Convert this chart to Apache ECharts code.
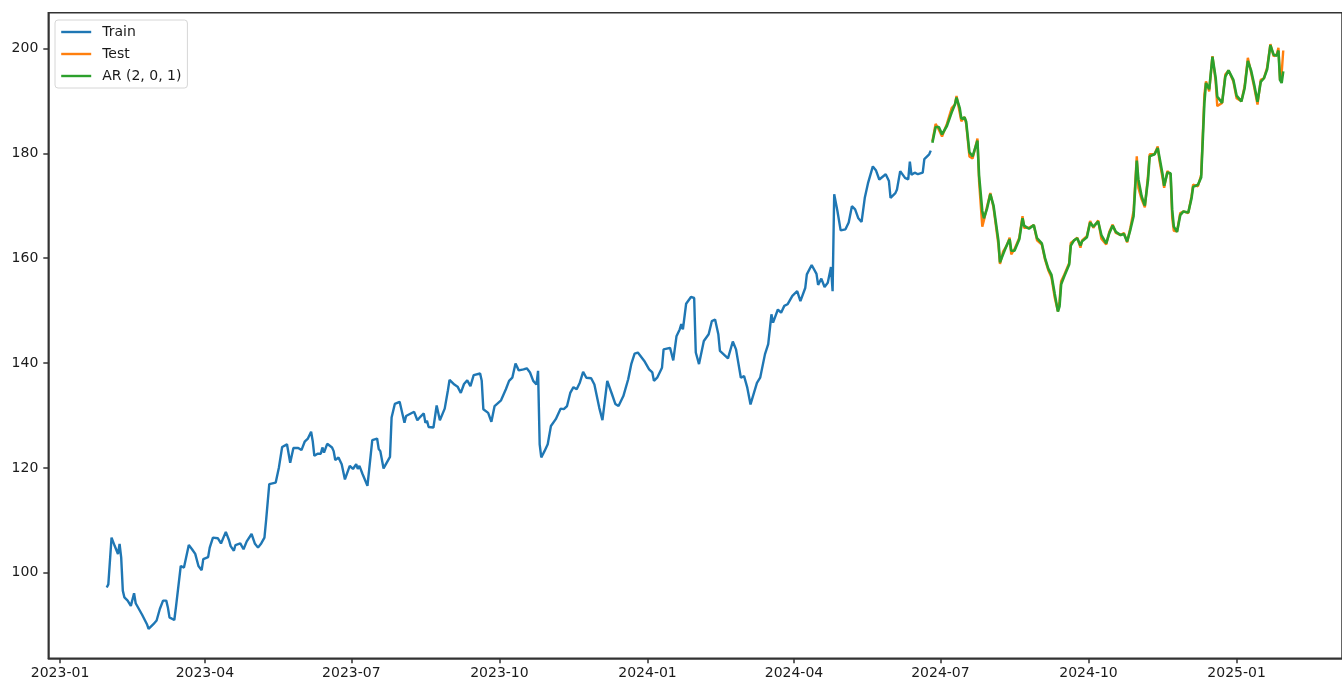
<!DOCTYPE html>
<html>
<head>
<meta charset="utf-8">
<script src="https://cdn.jsdelivr.net/npm/echarts@6/dist/echarts.min.js"></script>
<style>
  html, body { margin: 0; padding: 0; background: #fff; }
  #chart { width: 1342px; height: 684px; }
</style>
</head>
<body>
<div id="chart"></div>
<script>
// Closing prices: training window, held-out test window and AR(2,0,1) forecast
const trainDates = [
  '2023-01-30','2023-01-31','2023-02-02','2023-02-04','2023-02-06','2023-02-07','2023-02-08','2023-02-09','2023-02-10','2023-02-12',
  '2023-02-14','2023-02-16','2023-02-17','2023-02-19','2023-02-21','2023-02-24','2023-02-25','2023-02-26','2023-02-28','2023-03-02',
  '2023-03-04','2023-03-06','2023-03-08','2023-03-09','2023-03-10','2023-03-13','2023-03-14','2023-03-17','2023-03-19','2023-03-22',
  '2023-03-24','2023-03-26','2023-03-28','2023-03-30','2023-03-31','2023-04-03','2023-04-04','2023-04-06','2023-04-09','2023-04-11',
  '2023-04-14','2023-04-16','2023-04-17','2023-04-19','2023-04-20','2023-04-23','2023-04-25','2023-04-27','2023-04-30','2023-05-02',
  '2023-05-04','2023-05-06','2023-05-08','2023-05-09','2023-05-11','2023-05-15','2023-05-17','2023-05-19','2023-05-22','2023-05-24',
  '2023-05-26','2023-05-29','2023-05-31','2023-06-02','2023-06-04','2023-06-06','2023-06-07','2023-06-08','2023-06-10','2023-06-12',
  '2023-06-13','2023-06-14','2023-06-16','2023-06-19','2023-06-20','2023-06-21','2023-06-23','2023-06-25','2023-06-27','2023-06-30',
  '2023-07-02','2023-07-04','2023-07-05','2023-07-06','2023-07-08','2023-07-11','2023-07-14','2023-07-17','2023-07-18','2023-07-19',
  '2023-07-21','2023-07-23','2023-07-25','2023-07-26','2023-07-28','2023-07-31','2023-08-03','2023-08-04','2023-08-09','2023-08-11',
  '2023-08-13','2023-08-15','2023-08-16','2023-08-17','2023-08-18','2023-08-21','2023-08-23','2023-08-25','2023-08-28','2023-08-30',
  '2023-08-31','2023-09-03','2023-09-05','2023-09-07','2023-09-09','2023-09-11','2023-09-13','2023-09-15','2023-09-19','2023-09-20',
  '2023-09-21','2023-09-24','2023-09-26','2023-09-28','2023-10-02','2023-10-05','2023-10-07','2023-10-09','2023-10-11','2023-10-13',
  '2023-10-16','2023-10-18','2023-10-20','2023-10-22','2023-10-24','2023-10-25','2023-10-26','2023-10-27','2023-10-29','2023-10-31',
  '2023-11-02','2023-11-05','2023-11-08','2023-11-10','2023-11-12','2023-11-14','2023-11-16','2023-11-18','2023-11-20','2023-11-22',
  '2023-11-24','2023-11-27','2023-11-29','2023-12-02','2023-12-04','2023-12-07','2023-12-10','2023-12-12','2023-12-14','2023-12-17',
  '2023-12-20','2023-12-22','2023-12-24','2023-12-26','2023-12-30','2024-01-02','2024-01-04','2024-01-05','2024-01-07','2024-01-10',
  '2024-01-11','2024-01-15','2024-01-17','2024-01-19','2024-01-21','2024-01-22','2024-01-23','2024-01-25','2024-01-28','2024-01-30',
  '2024-01-31','2024-02-02','2024-02-05','2024-02-08','2024-02-10','2024-02-12','2024-02-14','2024-02-15','2024-02-20','2024-02-23',
  '2024-02-25','2024-02-28','2024-03-01','2024-03-03','2024-03-05','2024-03-06','2024-03-09','2024-03-11','2024-03-14','2024-03-16',
  '2024-03-18','2024-03-19','2024-03-22','2024-03-24','2024-03-26','2024-03-28','2024-03-31','2024-04-03','2024-04-05','2024-04-08',
  '2024-04-09','2024-04-12','2024-04-15','2024-04-16','2024-04-18','2024-04-20','2024-04-22','2024-04-24','2024-04-25','2024-04-26',
  '2024-04-28','2024-04-30','2024-05-03','2024-05-05','2024-05-07','2024-05-09','2024-05-11','2024-05-13','2024-05-15','2024-05-17',
  '2024-05-20','2024-05-22','2024-05-24','2024-05-28','2024-05-30','2024-05-31','2024-06-03','2024-06-04','2024-06-06','2024-06-09',
  '2024-06-11','2024-06-12','2024-06-13','2024-06-15','2024-06-17','2024-06-20','2024-06-21','2024-06-24','2024-06-25'
];
const trainValues = [
  97.2, 97.8, 106.7, 105.1, 103.6, 105.5, 102.9, 96.6, 95.3, 94.7,
  93.7, 96.1, 94.2, 93.1, 92.0, 90.2, 89.3, 89.5, 90.2, 90.9,
  93.1, 94.7, 94.7, 93.4, 91.5, 91.0, 93.4, 101.3, 101.0, 105.3,
  104.5, 103.6, 101.3, 100.5, 102.6, 103.0, 104.8, 106.7, 106.6, 105.6,
  107.8, 106.2, 105.1, 104.2, 105.3, 105.6, 104.5, 106.0, 107.4, 105.6,
  104.8, 105.6, 106.7, 109.9, 116.9, 117.2, 120.1, 124.0, 124.5, 121.0,
  123.8, 123.8, 123.4, 125.0, 125.6, 126.9, 125.1, 122.3, 122.7, 122.7,
  123.9, 122.9, 124.6, 123.9, 123.2, 121.5, 122.0, 120.7, 117.8, 120.4,
  119.8, 120.7, 119.8, 120.4, 118.8, 116.6, 125.3, 125.6, 123.6, 123.2,
  119.9, 121.0, 122.1, 129.6, 132.2, 132.6, 128.6, 129.9, 130.7, 129.1,
  129.8, 130.4, 128.6, 129.0, 127.8, 127.7, 131.9, 129.1, 131.3, 134.8,
  136.8, 135.9, 135.5, 134.3, 136.0, 136.7, 135.6, 137.7, 138.0, 136.6,
  131.2, 130.5, 128.8, 131.8, 132.9, 135.0, 136.6, 137.2, 139.9, 138.6,
  138.8, 139.0, 138.2, 136.6, 135.9, 138.5, 124.5, 122.0, 123.2, 124.5,
  128.0, 129.3, 131.3, 131.2, 131.8, 134.3, 135.4, 135.0, 136.3, 138.3,
  137.2, 137.1, 135.9, 131.5, 129.1, 136.6, 134.0, 132.2, 131.8, 133.7,
  136.9, 139.9, 141.8, 142.0, 140.4, 138.8, 138.2, 136.6, 137.2, 139.1,
  142.6, 142.9, 140.5, 145.1, 146.4, 147.4, 146.4, 151.3, 152.6, 152.4,
  142.0, 139.8, 144.2, 145.5, 148.0, 148.3, 145.5, 142.3, 140.9, 144.1,
  142.6, 137.2, 137.5, 135.3, 132.1, 132.1, 136.2, 137.2, 141.7, 143.6,
  149.3, 147.7, 150.2, 149.6, 150.9, 151.2, 152.8, 153.7, 151.8, 154.3,
  156.9, 158.7, 157.0, 154.9, 156.1, 154.5, 155.3, 158.3, 153.7, 172.2,
  169.0, 165.3, 165.5, 166.8, 169.9, 169.3, 167.6, 166.9, 171.5, 174.3,
  177.5, 176.7, 175.0, 176.0, 174.7, 171.5, 172.4, 173.1, 176.6, 175.3,
  175.0, 178.4, 175.9, 176.3, 176.0, 176.3, 178.9, 179.8, 180.5
];

const testDates = [
  '2024-06-26','2024-06-28','2024-06-30','2024-07-02','2024-07-05','2024-07-08','2024-07-10','2024-07-11','2024-07-13','2024-07-14',
  '2024-07-16','2024-07-17','2024-07-19','2024-07-21','2024-07-24','2024-07-25','2024-07-27','2024-07-28','2024-07-30','2024-08-01',
  '2024-08-03','2024-08-06','2024-08-07','2024-08-09','2024-08-11','2024-08-13','2024-08-14','2024-08-16','2024-08-19','2024-08-21',
  '2024-08-22','2024-08-25','2024-08-28','2024-08-30','2024-09-02','2024-09-04','2024-09-06','2024-09-08','2024-09-10','2024-09-12',
  '2024-09-13','2024-09-14','2024-09-16','2024-09-19','2024-09-20','2024-09-22','2024-09-24','2024-09-26','2024-09-27','2024-09-30',
  '2024-10-02','2024-10-04','2024-10-07','2024-10-09','2024-10-12','2024-10-14','2024-10-16','2024-10-18','2024-10-21','2024-10-23',
  '2024-10-25','2024-10-27','2024-10-29','2024-10-31','2024-11-01','2024-11-03','2024-11-05','2024-11-07','2024-11-08','2024-11-11',
  '2024-11-13','2024-11-14','2024-11-16','2024-11-17','2024-11-19','2024-11-21','2024-11-22','2024-11-23','2024-11-25','2024-11-27',
  '2024-11-29','2024-12-02','2024-12-04','2024-12-05','2024-12-08','2024-12-10','2024-12-12','2024-12-13','2024-12-15','2024-12-17',
  '2024-12-19','2024-12-20','2024-12-23','2024-12-25','2024-12-27','2024-12-30','2025-01-01','2025-01-04','2025-01-06','2025-01-08',
  '2025-01-10','2025-01-12','2025-01-14','2025-01-16','2025-01-18','2025-01-20','2025-01-22','2025-01-24','2025-01-26','2025-01-27',
  '2025-01-28','2025-01-29','2025-01-30'
];
const testValues = [
  182.3, 185.6, 184.5, 183.2, 185.6, 188.6, 189.3, 190.9, 187.7, 186.1,
  186.9, 185.6, 179.4, 179.0, 182.8, 174.7, 166.0, 167.2, 169.9, 172.4,
  169.6, 162.6, 158.9, 161.3, 162.3, 163.9, 160.7, 161.7, 163.9, 168.0,
  165.8, 165.8, 166.3, 163.4, 162.6, 159.7, 157.7, 156.3, 152.5, 149.9,
  151.8, 155.6, 156.9, 159.1, 162.9, 163.4, 163.9, 162.0, 163.4, 164.2,
  167.1, 165.8, 167.2, 163.7, 162.6, 165.1, 166.4, 164.8, 164.4, 164.8,
  163.0, 165.8, 169.0, 179.4, 173.4, 171.2, 169.7, 175.9, 179.8, 179.8,
  181.3, 178.7, 175.3, 173.4, 176.6, 175.9, 167.7, 165.2, 165.1, 168.6,
  168.9, 168.6, 171.8, 174.0, 173.7, 175.9, 191.2, 193.7, 191.8, 198.5,
  193.7, 189.0, 189.6, 195.0, 195.8, 193.7, 190.5, 189.9, 192.8, 198.2,
  195.4, 192.5, 189.3, 194.0, 194.3, 196.4, 200.8, 198.5, 198.9, 200.1,
  193.9, 195.2, 199.6
];
const arValues = [
  182.0, 185.0, 185.0, 183.6, 185.2, 187.8, 189.3, 190.6, 188.6, 186.6,
  186.8, 186.0, 180.2, 179.4, 182.4, 175.8, 169.0, 167.6, 169.5, 172.2,
  170.0, 163.4, 159.2, 160.8, 162.3, 163.6, 161.4, 161.4, 163.6, 167.6,
  166.2, 165.6, 166.3, 163.8, 162.8, 160.0, 158.0, 156.8, 153.2, 149.8,
  150.8, 155.0, 156.6, 158.8, 162.4, 163.4, 163.8, 162.4, 163.2, 164.0,
  166.8, 166.0, 167.0, 164.4, 162.8, 164.8, 166.2, 165.0, 164.4, 164.6,
  163.2, 165.4, 168.0, 178.6, 175.0, 171.8, 170.0, 175.0, 179.4, 179.8,
  181.0, 179.4, 176.0, 173.8, 176.3, 176.2, 169.2, 166.0, 165.0, 168.2,
  168.9, 168.7, 171.4, 173.6, 174.0, 175.4, 189.6, 193.4, 192.2, 198.4,
  194.4, 190.8, 189.6, 194.6, 195.8, 194.0, 191.0, 189.9, 192.4, 197.6,
  195.8, 193.0, 189.8, 193.6, 194.3, 196.0, 200.6, 198.8, 198.6, 199.6,
  194.0, 193.4, 195.6
];

// Axis settings
const xTickDates = ['2023-01-01','2023-04-01','2023-07-01','2023-10-01','2024-01-01','2024-04-01','2024-07-01','2024-10-01','2025-01-01'];
const yTickValues = [100, 120, 140, 160, 180, 200];
const xRange = ['2022-12-24T17:00:00', '2025-03-07T12:00:00'];
const yRange = [83.7, 206.8];

const ts = s => new Date(s.length > 10 ? s : s + 'T00:00:00').getTime();
const pair = (dates, vals) => dates.map((d, i) => [ts(d), vals[i]]);
const pad = n => (n < 10 ? '0' : '') + n;

const FONT = '"DejaVu Sans", sans-serif';
const INK = '#1a1a1a';
const FRAME = '#333333';
const LINE_W = 2.4;

const chart = echarts.init(document.getElementById('chart'), null, { renderer: 'canvas' });

chart.setOption({
  animation: false,
  backgroundColor: '#ffffff',
  textStyle: { fontFamily: FONT },
  grid: {
    left: 48.3, top: 12.7, right: -7, bottom: 25.7,
    show: true, borderColor: FRAME, borderWidth: 1.5, backgroundColor: 'transparent',
    containLabel: false
  },
  legend: {
    orient: 'vertical',
    left: 55, top: 20,
    padding: [5, 6, 5, 5],
    itemGap: 8,
    itemWidth: 30, itemHeight: 14,
    backgroundColor: '#ffffff',
    borderColor: '#d6d6d6', borderWidth: 1, borderRadius: 3,
    // plain line samples, no marker
    itemStyle: { opacity: 0 },
    lineStyle: { width: LINE_W },
    textStyle: { fontFamily: FONT, fontSize: 14, color: INK, padding: [0, 0, 0, 6] },
    data: ['Train', 'Test', 'AR (2, 0, 1)']
  },
  xAxis: {
    // timestamps on a linear axis so the quarterly ticks can be placed exactly
    type: 'value',
    min: ts(xRange[0]),
    max: ts(xRange[1]),
    splitLine: { show: false },
    axisLine: { show: true, lineStyle: { color: FRAME, width: 1.5 } },
    axisTick: {
      show: true, length: 5, inside: false,
      lineStyle: { color: FRAME, width: 1.5 },
      customValues: xTickDates.map(ts)
    },
    axisLabel: {
      fontFamily: FONT, fontSize: 14, color: INK, margin: 8,
      customValues: xTickDates.map(ts),
      formatter: v => { const d = new Date(v); return d.getFullYear() + '-' + pad(d.getMonth() + 1); }
    }
  },
  yAxis: {
    type: 'value',
    min: yRange[0],
    max: yRange[1],
    splitLine: { show: false },
    axisLine: { show: true, lineStyle: { color: FRAME, width: 1.5 } },
    axisTick: {
      show: true, length: 5, inside: false,
      lineStyle: { color: FRAME, width: 1.5 },
      customValues: yTickValues
    },
    axisLabel: {
      fontFamily: FONT, fontSize: 14, color: INK, margin: 10,
      customValues: yTickValues
    }
  },
  series: [
    {
      name: 'Train', type: 'line', symbol: 'none', showSymbol: false,
      color: '#1f77b4', lineStyle: { width: LINE_W, color: '#1f77b4' },
      data: pair(trainDates, trainValues), z: 2
    },
    {
      name: 'Test', type: 'line', symbol: 'none', showSymbol: false,
      color: '#ff7f0e', lineStyle: { width: LINE_W, color: '#ff7f0e' },
      data: pair(testDates, testValues), z: 3
    },
    {
      name: 'AR (2, 0, 1)', type: 'line', symbol: 'none', showSymbol: false,
      color: '#2ca02c', lineStyle: { width: LINE_W + 0.2, color: '#2ca02c' },
      data: pair(testDates, arValues), z: 4
    }
  ]
});
</script>
</body>
</html>
